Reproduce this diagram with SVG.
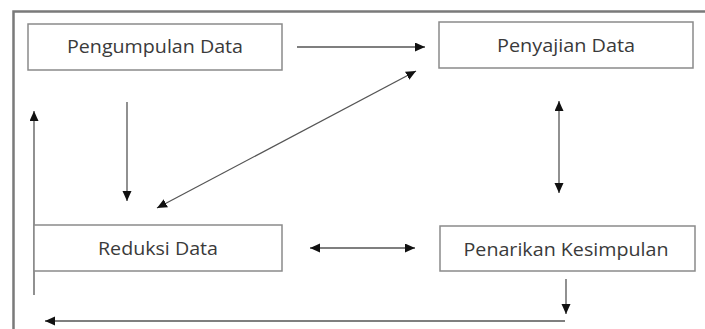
<svg xmlns="http://www.w3.org/2000/svg" width="705" height="329" viewBox="0 0 705 329">
<style>
.frame{fill:none;stroke:#7a7a7a;stroke-width:2.5}
.box{fill:#fff;stroke:#8a8a8a;stroke-width:1.5}
.lbl{font-family:"Open Sans","Noto Sans",sans-serif;font-size:19px;fill:#3a3a3a;text-anchor:middle}
.c{fill:none;stroke:#555;stroke-width:1.3}
</style>
<defs>
<marker id="ah" markerUnits="userSpaceOnUse" markerWidth="12" markerHeight="10" refX="10" refY="4.5" orient="auto-start-reverse">
<path d="M0,0 L10,4.5 L0,9 Z" fill="#111"/>
</marker>
</defs>
<rect width="705" height="329" fill="#fff"/>
<path class="frame" d="M13.5,340 V11.5 H720"/>
<g id="connectors">
<line class="c" x1="297" y1="47" x2="425" y2="47" marker-end="url(#ah)"/>
<line class="c" x1="157" y1="208" x2="416" y2="71" marker-start="url(#ah)" marker-end="url(#ah)"/>
<line class="c" x1="127" y1="102" x2="127" y2="201" marker-end="url(#ah)"/>
<line class="c" x1="34" y1="295" x2="34" y2="111" marker-end="url(#ah)"/>
<line class="c" x1="310" y1="248" x2="415" y2="248" marker-start="url(#ah)" marker-end="url(#ah)"/>
<line class="c" x1="559" y1="101" x2="559" y2="193" marker-start="url(#ah)" marker-end="url(#ah)"/>
<line class="c" x1="566" y1="279" x2="566" y2="314" marker-end="url(#ah)"/>
<line class="c" x1="565" y1="321" x2="45" y2="321" marker-end="url(#ah)"/>
</g>
<g id="pengumpulan">
<rect class="box" x="28" y="24" width="254" height="46"/>
<text class="lbl" x="155" y="53" textLength="176" lengthAdjust="spacingAndGlyphs">Pengumpulan Data</text>
</g>
<g id="penyajian">
<rect class="box" x="439" y="22" width="254" height="46"/>
<text class="lbl" x="566" y="52" textLength="138" lengthAdjust="spacingAndGlyphs">Penyajian Data</text>
</g>
<g id="reduksi">
<rect class="box" x="34" y="225" width="248" height="46"/>
<text class="lbl" x="158" y="255" textLength="120" lengthAdjust="spacingAndGlyphs">Reduksi Data</text>
</g>
<g id="penarikan">
<rect class="box" x="440" y="226" width="255" height="45"/>
<text class="lbl" x="566" y="256" textLength="205" lengthAdjust="spacingAndGlyphs">Penarikan Kesimpulan</text>
</g>
</svg>
